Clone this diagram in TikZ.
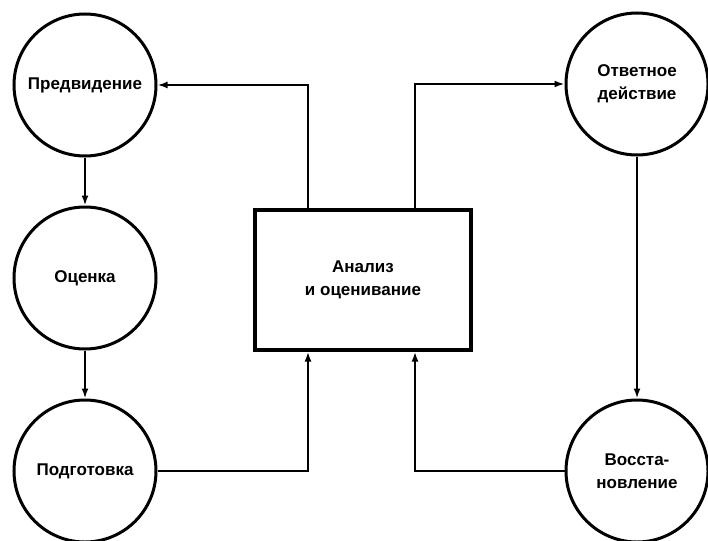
\documentclass[tikz,border=0pt]{standalone}
\usepackage{fontspec}
\setmainfont{Liberation Sans}
\usepackage{tikz}
\usetikzlibrary{shapes,arrows.meta,positioning}
\tikzstyle{etapa} = [draw, circle, line width=3pt, minimum size=142pt, inner sep=0pt, align=center, font=\fontsize{17}{23}\selectfont\bfseries]
\tikzstyle{bloque} = [draw, rectangle, line width=3.2pt, minimum width=216pt, minimum height=140pt, align=center, font=\fontsize{17}{23}\selectfont\bfseries]
\tikzstyle{flecha} = [line width=2.6pt, -{Latex[length=10pt,width=7pt]}]

\begin{document}
\begin{tikzpicture}[x=1pt,y=-1pt]
					\useasboundingbox (0,0) rectangle (708,540);
					\node [etapa] (predv) at (85,85) {Предвидение};
					\node [etapa] (ocenka) at (85,278) {Оценка};
					\node [etapa] (podg) at (85,471) {Подготовка};
					\node [etapa] (otvet) at (637,84) {Ответное\\действие};
					\node [etapa] (vosst) at (637,471) {Восста-\\новление};
					\node [bloque] (analiz) at (363,280) {Анализ\\и оценивание};
					\draw [flecha] (predv) -- (ocenka);
					\draw [flecha] (ocenka) -- (podg);
					\draw [flecha] (otvet) -- (vosst);
					\draw [flecha] ([xshift=-55pt]analiz.north) |- (predv);
					\draw [flecha] ([xshift=52pt]analiz.north) |- (otvet);
					\draw [flecha] (podg) -| ([xshift=-55pt]analiz.south);
					\draw [flecha] (vosst) -| ([xshift=52pt]analiz.south);
					\end{tikzpicture}
\end{document}
